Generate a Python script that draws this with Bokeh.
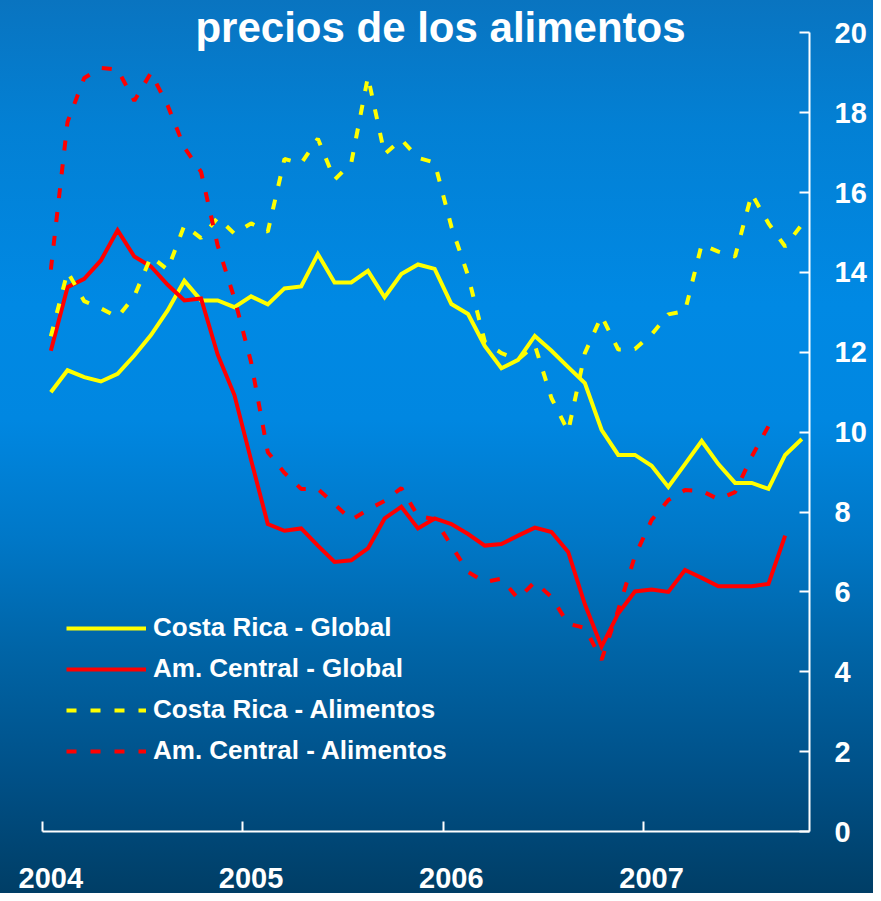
import pandas as pd
from bokeh.plotting import figure
from bokeh.models import (LinearAxis, FixedTicker, Range1d, Legend, LegendItem,
                          Label, NumeralTickFormatter, Grid)
from bokeh.embed import file_html
from bokeh.resources import INLINE

# ---------------- data ----------------
title_text = "precios de los alimentos"
series_names = ["Costa Rica - Global", "Am. Central - Global",
                "Costa Rica - Alimentos", "Am. Central - Alimentos"]
months = pd.period_range("2004-01", "2007-10", freq="M")

cr_global = [11.00, 11.55, 11.38, 11.27, 11.46, 11.92, 12.43, 13.05, 13.79, 13.30,
             13.30, 13.13, 13.40, 13.20, 13.60, 13.65, 14.46, 13.75, 13.75, 14.04,
             13.38, 13.96, 14.20, 14.09, 13.21, 12.96, 12.16, 11.60, 11.81, 12.41,
             12.04, 11.63, 11.23, 10.06, 9.43, 9.43, 9.16, 8.63, 9.20, 9.78,
             9.20, 8.73, 8.73, 8.58, 9.43, 9.83]
ac_global = [12.04, 13.63, 13.84, 14.30, 15.06, 14.40, 14.15, 13.69, 13.30, 13.35,
             11.94, 10.93, 9.30, 7.70, 7.53, 7.59, 7.16, 6.75, 6.79, 7.09,
             7.84, 8.13, 7.59, 7.84, 7.70, 7.45, 7.16, 7.20, 7.41, 7.61,
             7.50, 7.00, 5.69, 4.63, 5.46, 6.01, 6.06, 6.00, 6.55, 6.35,
             6.14, 6.14, 6.14, 6.20, 7.41]
cr_alim = [12.40, 14.02, 13.28, 13.10, 12.88, 13.40, 14.40, 14.07, 15.18, 14.86,
           15.37, 14.97, 15.23, 15.02, 16.84, 16.73, 17.35, 16.32, 16.74, 18.90,
           16.96, 17.33, 16.87, 16.75, 15.15, 13.92, 12.27, 11.98, 11.82, 12.18,
           10.85, 10.02, 11.98, 12.91, 12.07, 12.08, 12.45, 12.95, 13.03, 14.70,
           14.52, 14.40, 15.97, 15.23, 14.65, 15.20]
ac_alim = [14.07, 17.77, 18.87, 19.12, 19.08, 18.30, 19.00, 18.18, 17.13, 16.52,
           14.67, 13.35, 11.75, 9.50, 8.98, 8.58, 8.58, 8.20, 7.80, 8.06,
           8.28, 8.60, 7.90, 7.82, 7.16, 6.50, 6.25, 6.33, 5.83, 6.25,
           5.87, 5.20, 5.10, 4.30, 5.55, 6.90, 7.80, 8.30, 8.55, 8.53,
           8.32, 8.50, 9.39, 10.15]

year_ticks = [2004, 2005, 2006, 2007]
y_ticks = list(range(0, 21, 2))

# ---------------- styling ----------------
FONT = "Liberation Sans"
YELLOW = "#FFFF00"
RED = "#FF0000"
DASH = "10 14"


def month_pos(per):
    # each monthly observation sits in the middle of its month
    return per.year + (per.month - 0.5) / 12.0


x_all = [month_pos(m) for m in months]

p = figure(frame_width=767, frame_height=831,
           x_range=Range1d(2004, 2007.83), y_range=Range1d(0, 20.81),
           x_axis_location=None, y_axis_location=None,
           toolbar_location=None, output_backend="svg",
           min_border_left=42, min_border_right=64,
           min_border_top=0, min_border_bottom=62,
           background_fill_color=None, border_fill_color=None,
           outline_line_color=None)
for g in p.select(type=Grid):
    g.visible = False
p.styles = {"background": "linear-gradient(to bottom, #0974c0 0%, #0380d4 14%, "
                          "#0089e4 34%, #0087e1 47%, #0078c8 60%, #0064a6 73%, "
                          "#005087 87%, #003e66 100%)"}

# bottom axis: year labels under the first month of each year,
# tick marks (minor ticks) at the year boundaries
label_pos = [y + 0.5 / 12.0 for y in year_ticks]
ax = LinearAxis(ticker=FixedTicker(ticks=label_pos, minor_ticks=year_ticks),
                formatter=NumeralTickFormatter(format="0"),
                axis_line_color="white", axis_line_width=2,
                major_tick_line_color=None,
                minor_tick_in=10, minor_tick_out=0,
                minor_tick_line_color="white", minor_tick_line_width=2,
                major_label_text_color="white",
                major_label_text_font_size="29px",
                major_label_text_font_style="bold",
                major_label_text_font=FONT,
                major_label_standoff=30)
p.add_layout(ax, "below")

# right value axis
ay = LinearAxis(ticker=FixedTicker(ticks=y_ticks), bounds=(0, 20),
                major_tick_in=10, major_tick_out=0,
                minor_tick_line_color=None,
                axis_line_color="white", axis_line_width=2,
                major_tick_line_color="white", major_tick_line_width=2,
                major_label_text_color="white",
                major_label_text_font_size="29px",
                major_label_text_font_style="bold",
                major_label_text_font=FONT,
                major_label_standoff=25)
p.add_layout(ay, "right")

r1 = p.line(x_all[:len(cr_global)], cr_global, line_color=YELLOW, line_width=4,
            line_join="miter")
r2 = p.line(x_all[:len(ac_global)], ac_global, line_color=RED, line_width=4,
            line_join="miter")
r3 = p.line(x_all[:len(cr_alim)], cr_alim, line_color=YELLOW, line_width=4,
            line_dash=DASH)
r4 = p.line(x_all[:len(ac_alim)], ac_alim, line_color=RED, line_width=4,
            line_dash=DASH)

legend = Legend(items=[LegendItem(label=series_names[0], renderers=[r1]),
                       LegendItem(label=series_names[1], renderers=[r2]),
                       LegendItem(label=series_names[2], renderers=[r3]),
                       LegendItem(label=series_names[3], renderers=[r4])],
                location=(24, 65), orientation="vertical",
                padding=0, margin=0, spacing=10,
                glyph_width=80, glyph_height=30, label_height=30,
                label_standoff=7,
                label_text_color="white", label_text_font_size="26px",
                label_text_font_style="bold", label_text_font=FONT,
                background_fill_alpha=0, border_line_color=None)
p.add_layout(legend, "center")

title = Label(x=398, y=804, x_units="screen", y_units="screen",
              text=title_text, text_align="center", text_baseline="middle",
              text_color="white", text_font_size="42px", text_font_style="bold",
              text_font=FONT)
p.add_layout(title)

open("out.html", "w").write(file_html(p, INLINE))
